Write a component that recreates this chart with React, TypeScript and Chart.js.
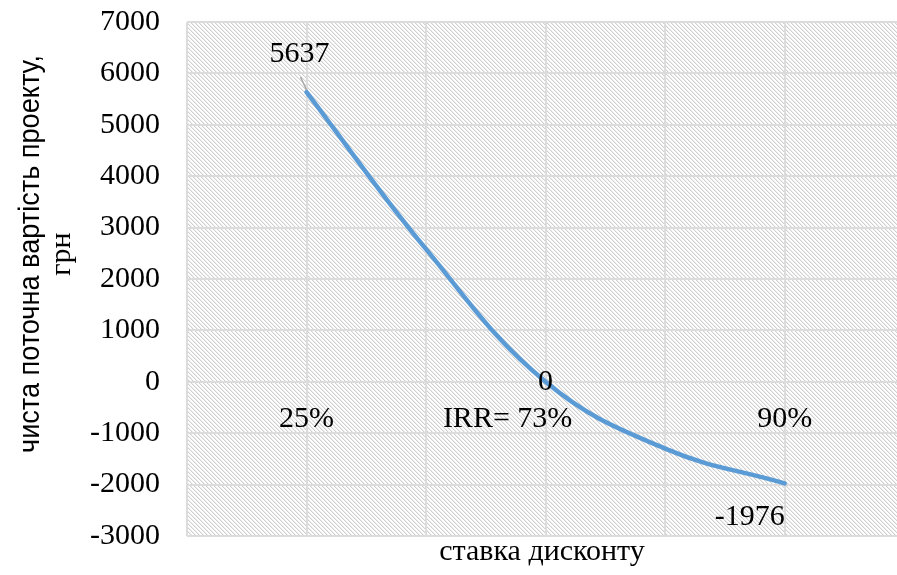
import React, { useEffect, useRef } from 'react';
import { Chart, registerables } from 'chart.js';
Chart.register(...registerables);

// ---- data ----
const positions = [1, 2, 3, 4, 5];
const npvValues = [5637, 2580, 0, -1300, -1976];
const rateLabels = ['25%', '', 'IRR= 73%', '', '90%'];
const valueLabels = ['5637', '', '0', '', '-1976'];
const yMin = -3000;
const yMax = 7000;
const yStep = 1000;
const yTitleLines = ['чиста поточна вартість проекту,', 'грн'];
const xTitle = 'ставка дисконту';

const SERIF = '"Liberation Serif", "Times New Roman", serif';
const FONT = '30px ' + SERIF;
const NARROW = '30px "Liberation Sans Narrow", "Arial Narrow", "Liberation Sans", sans-serif';

function makePattern(ctx: CanvasRenderingContext2D) {
  const c = document.createElement('canvas');
  const n = 4;
  c.width = n;
  c.height = n;
  const g = c.getContext('2d')!;
  g.fillStyle = '#ffffff';
  g.fillRect(0, 0, n, n);
  for (let i = 0; i < n; i++) {
    g.fillStyle = '#d0d0d0';
    g.fillRect(i, i, 1, 1);
    g.fillStyle = '#ededed';
    g.fillRect((i + 1) % n, i, 1, 1);
  }
  return ctx.createPattern(c, 'repeat');
}

const backgroundPlugin = {
  id: 'hatchBackground',
  beforeDraw(chart: any) {
    const { ctx, chartArea } = chart;
    if (!chartArea) return;
    ctx.save();
    const p = makePattern(ctx);
    if (p) ctx.fillStyle = p;
    ctx.fillRect(chartArea.left, chartArea.top, chartArea.right - chartArea.left, chartArea.bottom - chartArea.top);
    ctx.restore();
  },
};

const textPlugin = {
  id: 'texts',
  afterDraw(chart: any) {
    const { ctx, scales } = chart;
    const x = scales.x;
    const y = scales.y;
    ctx.save();
    ctx.font = FONT;
    ctx.fillStyle = '#000000';
    ctx.textBaseline = 'middle';
    const y0 = y.getPixelForValue(0);
    rateLabels.forEach((l, i) => {
      if (!l) return;
      const px = x.getPixelForValue(positions[i]);
      ctx.textAlign = 'center';
      const shift = l.startsWith('IRR') ? -38 : 0;
      ctx.fillText(l, px + shift, y0 + 37);
    });
    valueLabels.forEach((l, i) => {
      if (!l) return;
      const px = x.getPixelForValue(positions[i]);
      const py = y.getPixelForValue(npvValues[i]);
      if (npvValues[i] > 0) {
        ctx.textAlign = 'center';
        ctx.fillText(l, px - 7, py - 38);
        ctx.strokeStyle = '#a6a6a6';
        ctx.lineWidth = 1.5;
        ctx.beginPath();
        ctx.moveTo(px - 6, py - 15);
        ctx.lineTo(px, py - 2);
        ctx.stroke();
      } else if (npvValues[i] === 0) {
        ctx.textAlign = 'center';
        ctx.fillText(l, px, py);
      } else {
        ctx.textAlign = 'right';
        ctx.fillText(l, px, py + 34);
      }
    });
    // axis titles
    ctx.textAlign = 'center';
    ctx.fillText(xTitle, (chart.chartArea.left + chart.chartArea.right) / 2, 552);
    yTitleLines.forEach((line, i) => {
      ctx.save();
      ctx.font = i === 0 ? NARROW : FONT;
      ctx.translate(31 + i * 31, 254);
      ctx.rotate(-Math.PI / 2);
      if (i === 0) {
        const w = ctx.measureText(line).width;
        const target = 398;
        ctx.scale(target / w, 1);
      }
      ctx.fillText(line, 0, 0);
      ctx.restore();
    });
    ctx.restore();
  },
};

export default function App() {
  const ref = useRef<HTMLCanvasElement>(null);
  useEffect(() => {
    if (!ref.current) return;
    const gridColor = (c: any) => (c.tick && Math.abs(c.tick.value - Math.round(c.tick.value)) > 1e-6 ? 'rgba(0,0,0,0)' : '#dcdcdc');
    const chart = new Chart(ref.current, {
      type: 'line',
      data: {
        datasets: [
          {
            data: positions.map((p, i) => ({ x: p, y: npvValues[i] })),
            borderColor: '#5B9BD5',
            borderWidth: 4.5,
            pointRadius: 0,
            tension: 0.4,
            borderCapStyle: 'round',
            fill: false,
          },
        ],
      },
      options: {
        responsive: false,
        animation: false,
        layout: { padding: { top: 22, bottom: 39, right: 0, left: 0 } },
        plugins: { legend: { display: false }, tooltip: { enabled: false } },
        scales: {
          x: {
            type: 'linear',
            min: 0,
            max: 5.94,
            ticks: { display: false, stepSize: 1 },
            grid: { color: gridColor, lineWidth: 2, drawTicks: false },
            border: { display: false },
            afterFit: (s: any) => { s.height = 0; s.paddingLeft = 0; s.paddingRight = 0; },
          },
          y: {
            min: yMin,
            max: yMax,
            ticks: {
              stepSize: yStep,
              padding: 27,
              color: '#000000',
              font: { family: SERIF, size: 30 },
              callback: (v: any) => String(v),
            },
            grid: { color: '#dcdcdc', lineWidth: 2, drawTicks: false },
            border: { display: false },
            afterFit: (s: any) => { s.width = 187; s.paddingTop = 0; s.paddingBottom = 0; },
          },
        },
      },
      plugins: [backgroundPlugin, textPlugin],
    } as any);
    return () => chart.destroy();
  }, []);
  return (
    <div style={{ position: 'absolute', left: 0, top: 0, width: 897, height: 575 }}>
      <canvas ref={ref} width={897} height={575} />
    </div>
  );
}
